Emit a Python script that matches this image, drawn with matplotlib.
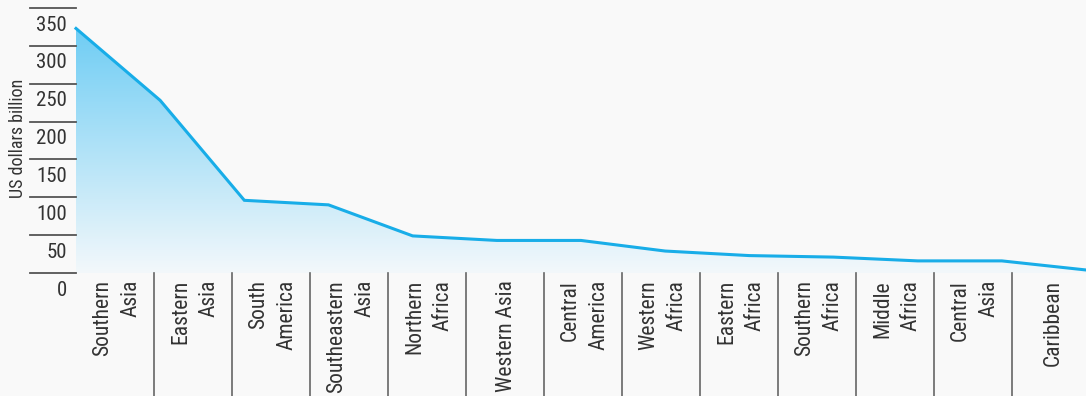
import matplotlib
matplotlib.use("Agg")
import matplotlib.pyplot as plt
import numpy as np
from matplotlib import font_manager as fm
from matplotlib.transforms import blended_transform_factory
from matplotlib.colors import LinearSegmentedColormap

categories = ["Southern\nAsia", "Eastern\nAsia", "South\nAmerica", "Southeastern\nAsia",
              "Northern\nAfrica", "Western Asia", "Central\nAmerica", "Western\nAfrica",
              "Eastern\nAfrica", "Southern\nAfrica", "Middle\nAfrica", "Central\nAsia",
              "Caribbean"]
values = [323, 228, 96, 90, 49, 43, 43, 29, 23, 21, 16, 16, 4]
yticks = [0, 50, 100, 150, 200, 250, 300, 350]
ylabel = "US dollars billion"

names = {f.name for f in fm.fontManager.ttflist}
fam = [n for n in ["Liberation Sans Narrow", "Roboto Condensed", "DejaVu Sans Condensed", "Roboto", "DejaVu Sans"] if n in names]
plt.rcParams['font.family'] = fam

W, H = 1086, 396
fig = plt.figure(figsize=(W / 100, H / 100), dpi=100)
bg = "#f9f9f9"
fig.patch.set_facecolor(bg)
left_px, right_px, top_px, bot_px = 76, 1086, 8, 273
ax = fig.add_axes([left_px / W, 1 - bot_px / H, (right_px - left_px) / W, (bot_px - top_px) / H])
ax.set_facecolor(bg)
n = len(values)
x = np.arange(n)
ax.set_xlim(0, n - 1)
ax.set_ylim(0, 350)
for s in ax.spines.values():
    s.set_visible(False)
ax.set_xticks([])
ax.set_yticks([])

line_c = "#18ade8"
grad = np.linspace(0, 1, 256).reshape(-1, 1)
cmap = LinearSegmentedColormap.from_list("g", ["#f3f8fb", "#6fcdf4"])
im = ax.imshow(grad, aspect="auto", cmap=cmap, origin="lower",
               extent=[0, n - 1, 0, max(values)], zorder=1)
poly = ax.fill_between(x, values, 0, color="none")
path = poly.get_paths()[0]
im.set_clip_path(path, transform=ax.transData)
ax.plot(x, values, color=line_c, lw=2.2, zorder=3, solid_joinstyle="miter", clip_on=False)

trans = blended_transform_factory(ax.transAxes, ax.transData)
x0 = (30 - left_px) / (right_px - left_px)
for t in yticks:
    ax.plot([x0, 0], [t, t], color="#555555", lw=1.3, transform=trans, clip_on=False)
    ax.text((67 - left_px) / (right_px - left_px), t - 22.5, str(t), transform=trans,
            ha="right", va="center", fontsize=15, color="#333333")

fig.text(18 / W, 1 - 138 / H, ylabel, rotation=90, ha="center", va="center",
         fontsize=13, color="#333333")

band = 78 / ((right_px - left_px) / (n - 1))
xtr = ax.get_xaxis_transform()
ybot = -(H - bot_px) / (bot_px - top_px)
for k in range(1, n):
    ax.plot([k * band, k * band], [0, ybot], color="#666666", lw=1.2,
            transform=xtr, clip_on=False)
for k, c in enumerate(categories):
    ax.text((k + 0.5) * band + 2 / 84.17, -7 / (bot_px - top_px), c, transform=xtr, rotation=90,
            ha="center", va="top", multialignment="right", fontsize=15.5,
            color="#333333", linespacing=1.5)

fig.savefig("out.png", dpi=100, facecolor=bg)
